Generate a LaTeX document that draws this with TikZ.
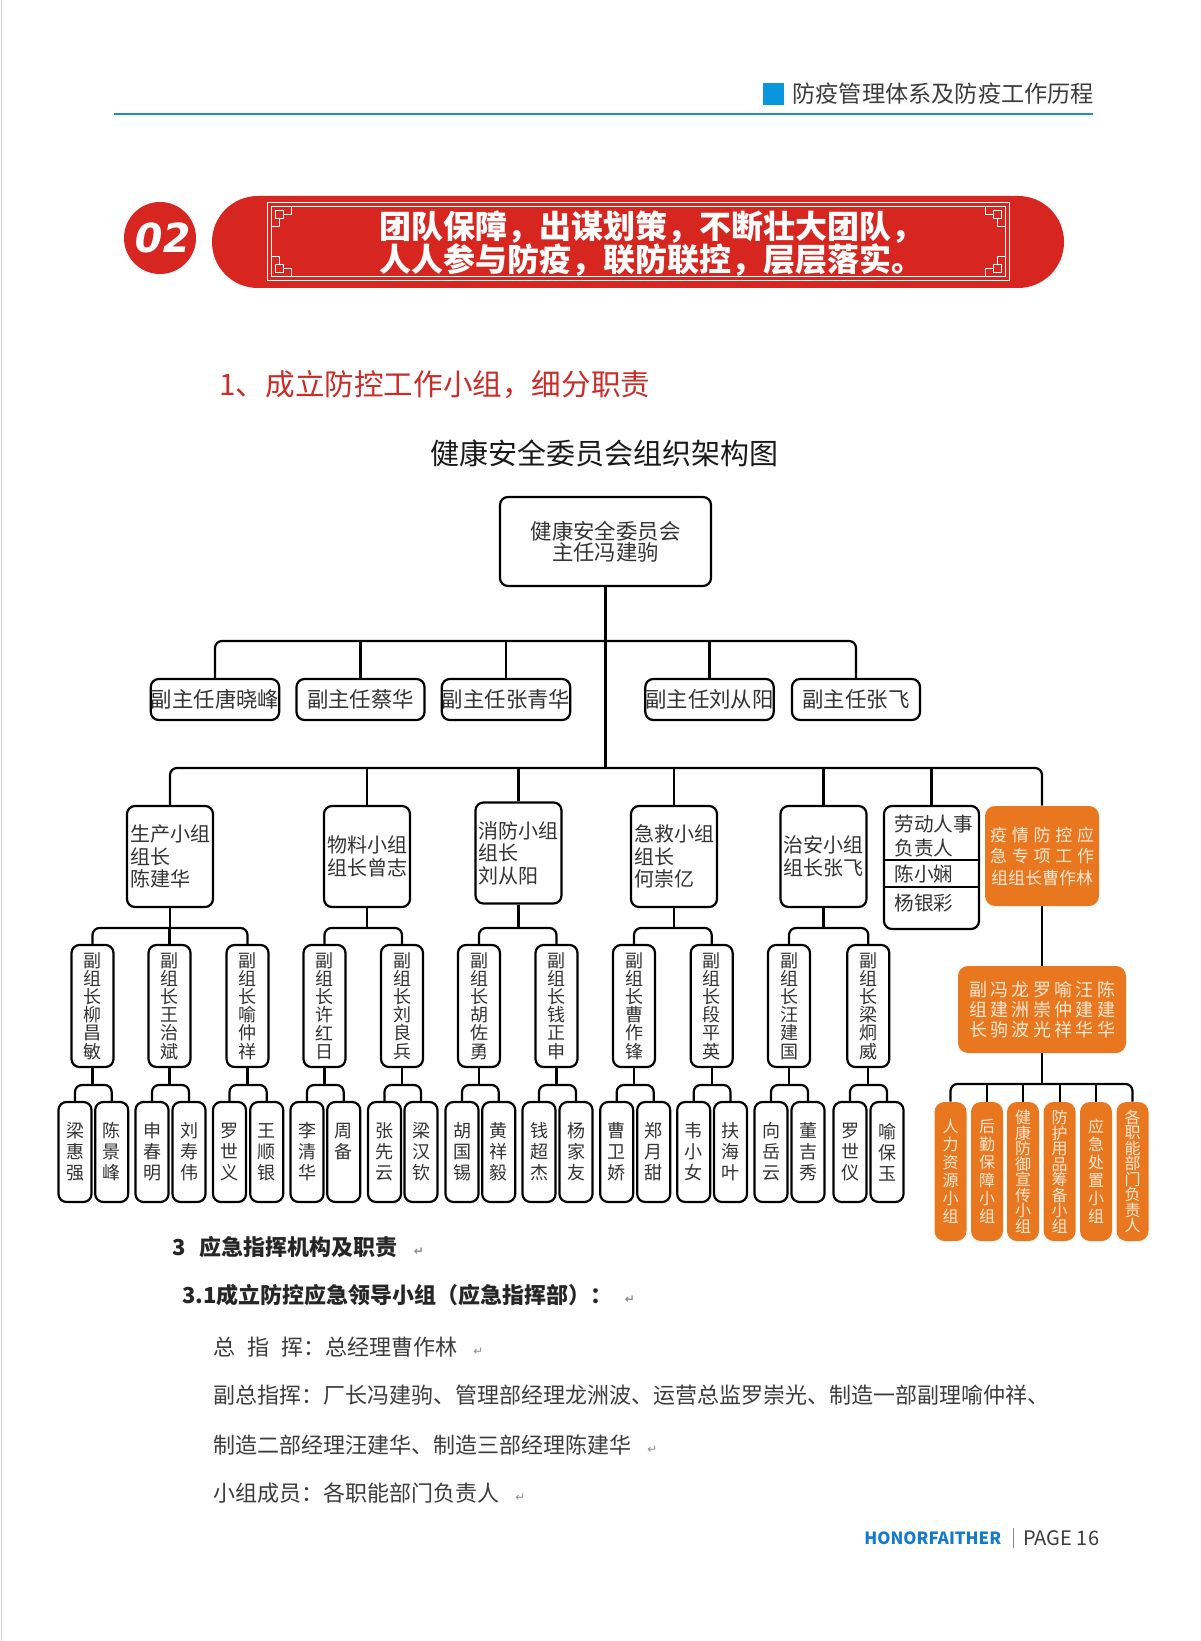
\documentclass[tikz,border=0pt]{standalone}
\usepackage{fontspec}
\setmainfont{Noto Sans CJK SC}
\newfontfamily\dejavu{DejaVu Sans}
\newfontfamily\numfont{DejaVu Sans}[FakeSlant=0.18]
\definecolor{hdrblue}{RGB}{10,150,220}
\definecolor{lineblue}{RGB}{30,140,205}
\definecolor{bannerred}{RGB}{214,38,31}
\definecolor{titlered}{RGB}{200,45,40}
\definecolor{orbox}{RGB}{232,119,32}
\definecolor{ortext}{RGB}{253,233,214}
\definecolor{footblue}{RGB}{20,122,205}
\definecolor{bodygray}{RGB}{60,60,60}
\newcommand\retmark{{\dejavu\fontsize{6}{6}\selectfont\color{black!45}↵}}

\begin{document}
\begin{tikzpicture}[x=0.5pt,y=-0.5pt]
\tikzstyle{every node}+=[inner sep=0pt]
\tikzstyle{box}=[draw=black, line width=1.1pt, rounded corners=4pt, fill=white, text=black!80]
\tikzstyle{link}=[line width=1.1pt, rounded corners=3.5pt]
\tikzstyle{vice}=[box, minimum width=64pt, minimum height=20.5pt, font=\fontsize{10.7}{11}\selectfont]
\tikzstyle{grp}=[box, minimum width=43pt, minimum height=50.5pt, text width=40pt, align=left, font=\fontsize{10}{11.2}\selectfont]
\tikzstyle{dep}=[box, minimum width=21pt, minimum height=61pt, align=center, font=\fontsize{9}{9.1}\selectfont]
\tikzstyle{leaf}=[box, minimum width=16.5pt, minimum height=50pt, align=center, font=\fontsize{9}{10.5}\selectfont]
\tikzstyle{obox}=[fill=orbox, rounded corners=5pt, text=ortext]
\tikzstyle{oleaf}=[obox, minimum width=16pt, minimum height=69.5pt, align=center, font=\fontsize{8}{9}\selectfont]
\tikzstyle{fret}=[draw=white, line width=0.5pt]
\tikzstyle{body}=[anchor=west, font=\fontsize{11}{13}\selectfont, text=bodygray]
\useasboundingbox (0,0) rectangle (1200,1641);
\fill[white] (0,0) rectangle (1200,1641);
\draw[black!18, line width=0.8pt] (1.5,0) -- (1.5,1641);
% page header
\fill[hdrblue] (763,83) rectangle (784,105);
\node[anchor=west, font=\fontsize{11.6}{12}\selectfont, text=bodygray] (hdr) at (792,94) {防疫管理体系及防疫工作历程};
\draw[lineblue, line width=1.3pt] (114,114) -- (1093,114);
% banner
\node[circle, fill=bannerred, minimum size=36pt, text=white, font=\numfont\bfseries\fontsize{20}{20}\selectfont] (num) at (160,238) {02};
\fill[bannerred, rounded corners=22.9pt] (212,196) rectangle (1064,288);
\draw[fret] (267,203) rectangle (1009,281);
\draw[fret] (271,207) rectangle (1005,277);
\foreach \cx/\cy/\sx/\sy in {267/203/1/1, 1009/203/-1/1, 267/281/1/-1, 1009/281/-1/-1}
  \draw[fret, shift={(\cx,\cy)}, xscale=\sx, yscale=\sy] (8,8) rectangle (16,16) (16,12) -- (24,12) -- (24,4) (12,16) -- (12,24) -- (4,24);
\node[align=center, text=white, font=\bfseries\fontsize{16}{16.6}\selectfont] (slogan) at (651,243.5) {团队保障，出谋划策，不断壮大团队，\\人人参与防疫，联防联控，层层落实。};
% titles
\node[anchor=west, text=titlered, font=\fontsize{14.8}{15}\selectfont] (sect) at (219,385) {1、成立防控工作小组，细分职责};
\node[text=black!90, font=\fontsize{14.5}{15}\selectfont] (charttitle) at (604,453) {健康安全委员会组织架构图};
% chart
\node[box, minimum width=105.5pt, minimum height=44.5pt, align=center, font=\fontsize{10.7}{10.5}\selectfont] (chair) at (605.5,541.5) {健康安全委员会\\主任冯建驹};
\node[vice] (v1) at (215,699.5) {副主任唐晓峰};
\node[vice] (v2) at (360.5,699.5) {副主任蔡华};
\node[vice] (v3) at (506,699.5) {副主任张青华};
\node[vice] (v4) at (709.5,699.5) {副主任刘从阳};
\node[vice] (v5) at (856,699.5) {副主任张飞};
\node[grp] (g1) at (170,856.5) {生产小组\\组长\\陈建华};
\node[grp] (g2) at (367,856.5) {物料小组\\组长曾志};
\node[grp] (g3) at (518.5,853) {消防小组\\组长\\刘从阳};
\node[grp] (g4) at (674,856.5) {急救小组\\组长\\何崇亿};
\node[grp] (g5) at (823.5,856.5) {治安小组\\组长张飞};
\node[box, minimum width=47.5pt, minimum height=61.5pt] (g6) at (931.5,867.5) {};
\node[anchor=west, align=left, text=black!80, font=\fontsize{9.8}{12}\selectfont] (g6a) at (894,836) {劳动人事\\负责人};
\node[anchor=west, text=black!80, font=\fontsize{9.8}{12}\selectfont] (g6b) at (894,874) {陈小娴};
\node[anchor=west, text=black!80, font=\fontsize{9.8}{12}\selectfont] (g6c) at (894,903) {杨银彩};
\node[obox, minimum width=57pt, minimum height=50pt, align=center, font=\fontsize{8.5}{10.75}\selectfont] (g7) at (1042,856) {\makebox[52pt][s]{疫\hfill 情\hfill 防\hfill 控\hfill 应}\\\makebox[52pt][s]{急\hfill 专\hfill 项\hfill 工\hfill 作}\\组组长曹作林};
\node[dep] (d1) at (92.5,1006) {副\\组\\长\\柳\\昌\\敏};
\node[dep] (d2) at (169.5,1006) {副\\组\\长\\王\\治\\斌};
\node[dep] (d3) at (247.5,1006) {副\\组\\长\\喻\\仲\\祥};
\node[dep] (d4) at (324.5,1006) {副\\组\\长\\许\\红\\日};
\node[dep] (d5) at (402,1006) {副\\组\\长\\刘\\良\\兵};
\node[dep] (d6) at (479,1006) {副\\组\\长\\胡\\佐\\勇};
\node[dep] (d7) at (556.5,1006) {副\\组\\长\\钱\\正\\申};
\node[dep] (d8) at (634,1006) {副\\组\\长\\曹\\作\\锋};
\node[dep] (d9) at (711.7,1006) {副\\组\\长\\段\\平\\英};
\node[dep] (d10) at (789,1006) {副\\组\\长\\汪\\建\\国};
\node[dep] (d11) at (868.3,1006) {副\\组\\长\\梁\\炯\\威};
\node[leaf] (l1) at (75,1152) {梁\\惠\\强};
\node[leaf] (l2) at (111.7,1152) {陈\\景\\峰};
\node[leaf] (l3) at (152,1152) {申\\春\\明};
\node[leaf] (l4) at (189,1152) {刘\\寿\\伟};
\node[leaf] (l5) at (229.5,1152) {罗\\世\\义};
\node[leaf] (l6) at (266.7,1152) {王\\顺\\银};
\node[leaf] (l7) at (307,1152) {李\\清\\华};
\node[leaf] (l8) at (343.7,1152) {周\\备\\\phantom{周}};
\node[leaf] (l9) at (384.5,1152) {张\\先\\云};
\node[leaf] (l10) at (421,1152) {梁\\汉\\钦};
\node[leaf] (l11) at (462,1152) {胡\\国\\锡};
\node[leaf] (l12) at (498.7,1152) {黄\\祥\\毅};
\node[leaf] (l13) at (539,1152) {钱\\超\\杰};
\node[leaf] (l14) at (576,1152) {杨\\家\\友};
\node[leaf] (l15) at (616.7,1152) {曹\\卫\\娇};
\node[leaf] (l16) at (653.7,1152) {郑\\月\\甜};
\node[leaf] (l17) at (693.7,1152) {韦\\小\\女};
\node[leaf] (l18) at (730.5,1152) {扶\\海\\叶};
\node[leaf] (l19) at (771,1152) {向\\岳\\云};
\node[leaf] (l20) at (808,1152) {董\\吉\\秀};
\node[leaf] (l21) at (850,1152) {罗\\世\\仪};
\node[leaf] (l22) at (887,1152) {喻\\保\\玉};
\node[obox, minimum width=84pt, minimum height=43.5pt, align=center, font=\fontsize{9}{9.8}\selectfont] (ob) at (1042,1009.5) {\makebox[73pt][s]{副\hfill 冯\hfill 龙\hfill 罗\hfill 喻\hfill 汪\hfill 陈}\\\makebox[73pt][s]{组\hfill 建\hfill 洲\hfill 崇\hfill 仲\hfill 建\hfill 建}\\\makebox[73pt][s]{长\hfill 驹\hfill 波\hfill 光\hfill 祥\hfill 华\hfill 华}};
\node[oleaf] (o1) at (950.5,1171.5) {人\\力\\资\\源\\小\\组};
\node[oleaf] (o2) at (987,1171.5) {后\\勤\\保\\障\\小\\组};
\node[oleaf, font=\fontsize{8}{7.75}\selectfont] (o3) at (1023,1171.5) {健\\康\\防\\御\\宣\\传\\小\\组};
\node[oleaf, font=\fontsize{8}{7.75}\selectfont] (o4) at (1059.6,1171.5) {防\\护\\用\\品\\筹\\备\\小\\组};
\node[oleaf] (o5) at (1096,1171.5) {应\\急\\处\\置\\小\\组};
\node[oleaf, font=\fontsize{8}{7.75}\selectfont] (o6) at (1132.5,1171.5) {各\\职\\能\\部\\门\\负\\责\\人};
% connectors
\coordinate (b1) at (606,641);
\coordinate (b2) at (606,768);
\coordinate (ys) at (0,928);
\coordinate (yl) at (0,1085);
\coordinate (yo) at (0,1084);
\coordinate (h1) at (0,860);
\coordinate (h2) at (0,887);
\draw[line width=0.8pt] (g6.west |- h1) -- (g6.east |- h1) (g6.west |- h2) -- (g6.east |- h2);
\draw[link] (chair.south) -- (chair.south |- b2);
\draw[link] (v1) |- (b1) -| (v5);
\draw[link] (v2) -- (v2 |- b1);
\draw[link] (v3) -- (v3 |- b1);
\draw[link] (v4) -- (v4 |- b1);
\draw[link] (g1) |- (b2) -| (g7);
\draw[link] (g2) -- (g2 |- b2);
\draw[link] (g3) -- (g3 |- b2);
\draw[link] (g4) -- (g4 |- b2);
\draw[link] (g5) -- (g5 |- b2);
\draw[link] (g6) -- (g6 |- b2);
\draw[link] (d1) |- (d3 |- ys) -- (d3);
\draw[link] (g1) -- (g1 |- ys);
\draw[link] (d2) -- (d2 |- ys);
\draw[link] (d4) |- (d5 |- ys) -- (d5);
\draw[link] (g2) -- (g2 |- ys);
\draw[link] (d6) |- (d7 |- ys) -- (d7);
\draw[link] (g3) -- (g3 |- ys);
\draw[link] (d8) |- (d9 |- ys) -- (d9);
\draw[link] (g4) -- (g4 |- ys);
\draw[link] (d10) |- (d11 |- ys) -- (d11);
\draw[link] (g5) -- (g5 |- ys);
\draw[link] (l1) |- (l2 |- yl) -- (l2);   \draw[link] (d1) -- (d1 |- yl);
\draw[link] (l3) |- (l4 |- yl) -- (l4);   \draw[link] (d2) -- (d2 |- yl);
\draw[link] (l5) |- (l6 |- yl) -- (l6);   \draw[link] (d3) -- (d3 |- yl);
\draw[link] (l7) |- (l8 |- yl) -- (l8);   \draw[link] (d4) -- (d4 |- yl);
\draw[link] (l9) |- (l10 |- yl) -- (l10); \draw[link] (d5) -- (d5 |- yl);
\draw[link] (l11) |- (l12 |- yl) -- (l12); \draw[link] (d6) -- (d6 |- yl);
\draw[link] (l13) |- (l14 |- yl) -- (l14); \draw[link] (d7) -- (d7 |- yl);
\draw[link] (l15) |- (l16 |- yl) -- (l16); \draw[link] (d8) -- (d8 |- yl);
\draw[link] (l17) |- (l18 |- yl) -- (l18); \draw[link] (d9) -- (d9 |- yl);
\draw[link] (l19) |- (l20 |- yl) -- (l20); \draw[link] (d10) -- (d10 |- yl);
\draw[link] (l21) |- (l22 |- yl) -- (l22); \draw[link] (d11) -- (d11 |- yl);
\draw[link] (g7) -- (ob);
\draw[link] (o1) |- (o6 |- yo) -- (o6);
\draw[link] (ob) -- (ob |- yo);
\draw[link] (o2) -- (o2 |- yo);
\draw[link] (o3) -- (o3 |- yo);
\draw[link] (o4) -- (o4 |- yo);
\draw[link] (o5) -- (o5 |- yo);
% text below the chart
\node[body, text=black!85, font=\bfseries\fontsize{11}{13}\selectfont] (s3) at (172,1247) {3\hspace{7pt}应急指挥机构及职责\hspace{8pt}\retmark};
\node[body, text=black!85, font=\bfseries\fontsize{11}{13}\selectfont] (s31) at (182,1295) {3.1成立防控应急领导小组（应急指挥部）：\hspace{6pt}\retmark};
\node[body] (t1) at (213,1347) {总\hspace{6pt}指\hspace{6pt}挥：总经理曹作林\hspace{8pt}\retmark};
\node[body] (t2) at (213,1395) {副总指挥：厂长冯建驹、管理部经理龙洲波、运营总监罗崇光、制造一部副理喻仲祥、};
\node[body] (t3) at (213,1445) {制造二部经理汪建华、制造三部经理陈建华\hspace{8pt}\retmark};
\node[body] (t4) at (213,1493) {小组成员：各职能部门负责人\hspace{8pt}\retmark};
% footer
\node[anchor=west, text=footblue, font=\bfseries\fontsize{8.4}{9}\selectfont] (brand) at (864,1538) {HONORFAITHER};
\draw[black!45, line width=0.5pt] (1013,1528) -- (1013,1548);
\node[anchor=west, text=bodygray, font=\fontsize{10}{10}\selectfont] (page) at (1023,1538) {PAGE 16};
\end{tikzpicture}
\end{document}
